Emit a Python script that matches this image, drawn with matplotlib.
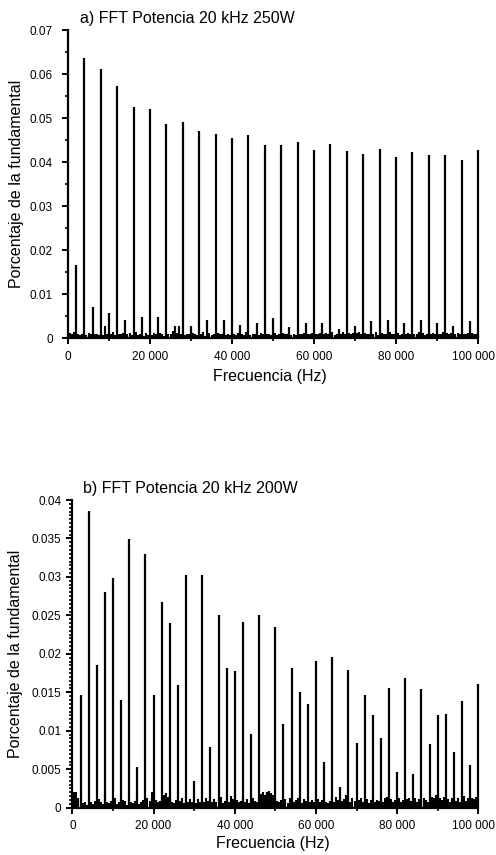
import numpy as np
import matplotlib
matplotlib.use("Agg")
import matplotlib.pyplot as plt
import matplotlib.transforms as mtransforms
from matplotlib.ticker import FixedLocator, MultipleLocator, FuncFormatter

plt.rcParams['font.family'] = ['Liberation Sans', 'DejaVu Sans']

# --- DATA ---
# harmonics every 2 kHz, amplitude as fraction of the fundamental
HARM_KHZ = list(range(2, 101, 2))

AMP_A = [0.0166, 0.0637, 0.0070, 0.0611, 0.0056, 0.0572, 0.0042, 0.0525, 0.0048, 0.0521,
         0.0047, 0.0486, 0.0028, 0.0490, 0.0028, 0.0470, 0.0041, 0.0463, 0.0042, 0.0454,
         0.0029, 0.0462, 0.0033, 0.0439, 0.0045, 0.0439, 0.0025, 0.0446, 0.0033, 0.0427,
         0.0033, 0.0441, 0.0020, 0.0424, 0.0028, 0.0419, 0.0038, 0.0429, 0.0042, 0.0411,
         0.0033, 0.0423, 0.0042, 0.0415, 0.0033, 0.0416, 0.0028, 0.0405, 0.0038, 0.0427]

AMP_B = [0.0147, 0.0386, 0.0185, 0.0280, 0.0298, 0.0140, 0.0349, 0.0053, 0.0330, 0.0146,
         0.0267, 0.0240, 0.0160, 0.0302, 0.0035, 0.0303, 0.0079, 0.0251, 0.0181, 0.0178,
         0.0242, 0.0096, 0.0251, 0.0020, 0.0235, 0.0109, 0.0181, 0.0150, 0.0135, 0.0191,
         0.0059, 0.0196, 0.0027, 0.0179, 0.0084, 0.0146, 0.0121, 0.0091, 0.0156, 0.0046,
         0.0169, 0.0044, 0.0154, 0.0083, 0.0120, 0.0122, 0.0072, 0.0139, 0.0055, 0.0161]

# background spectrum, one value every 500 Hz (units of 1e-4)
NOISE_A = [9, 11, 8, 14, 6, 10, 7, 9, 12, 6, 11, 8, 5, 9, 10, 7, 13, 6, 27, 8,
           6, 9, 14, 7, 5, 10, 8, 11, 6, 9, 12, 7, 8, 13, 6, 10, 9, 5, 11, 7,
           10, 6, 12, 8, 7, 11, 9, 5, 13, 8, 10, 15, 7, 12, 28, 9, 11, 6, 8, 10,
           7, 12, 9, 6, 10, 8, 13, 5, 9, 11, 7, 10, 6, 12, 8, 9, 11, 7, 10, 6,
           12, 8, 6, 11, 9, 10, 7, 13, 8, 6, 10, 9, 12, 7, 11, 8, 6, 10, 9, 7,
           8, 11, 7, 10, 6, 12, 9, 8, 11, 7, 10, 6, 13, 9, 8, 12, 7, 10, 9, 11,
           7, 10, 8, 12, 6, 9, 11, 8, 10, 13, 7, 9, 12, 8, 14, 10, 7, 11, 9, 12,
           8, 11, 13, 9, 7, 12, 10, 8, 11, 9, 13, 7, 10, 12, 8, 9, 11, 14, 8, 10,
           9, 12, 7, 10, 13, 8, 11, 9, 12, 10, 8, 13, 9, 11, 7, 10, 12, 8, 11, 9,
           12, 8, 10, 13, 7, 11, 9, 12, 8, 10, 11, 9, 13, 8, 10, 12, 9, 11, 8, 10]

NOISE_B = [25, 20, 21, 12, 14, 6, 8, 4, 10, 7, 5, 9, 6, 11, 8, 5, 18, 7, 6, 9,
           7, 12, 5, 8, 6, 10, 9, 4, 11, 7, 6, 9, 12, 5, 8, 10, 6, 13, 9, 20,
           18, 10, 7, 9, 12, 16, 19, 14, 11, 8, 6, 10, 7, 9, 12, 6, 10, 8, 11, 7,
           9, 6, 11, 8, 10, 7, 12, 9, 6, 8, 11, 7, 10, 14, 6, 9, 12, 8, 15, 11,
           16, 10, 7, 9, 12, 8, 11, 6, 10, 13, 9, 7, 14, 18, 20, 16, 21, 22, 19, 17,
           12, 9, 7, 10, 8, 11, 6, 12, 9, 7, 10, 13, 8, 6, 11, 9, 12, 7, 10, 8,
           9, 11, 7, 10, 12, 8, 6, 9, 11, 7, 14, 10, 13, 9, 11, 16, 10, 8, 12, 9,
           7, 10, 12, 8, 9, 11, 6, 10, 13, 8, 10, 9, 11, 7, 12, 14, 9, 11, 8, 10,
           9, 12, 8, 10, 7, 11, 13, 9, 10, 12, 8, 11, 9, 13, 10, 8, 11, 14, 12, 16,
           18, 12, 10, 14, 9, 11, 8, 12, 10, 9, 13, 8, 11, 15, 9, 12, 10, 13, 11, 14]

X_TICKS = [0, 20000, 40000, 60000, 80000, 100000]
Y_TICKS_A = [0, 0.01, 0.02, 0.03, 0.04, 0.05, 0.06, 0.07]
Y_TICKS_B = [0, 0.005, 0.01, 0.015, 0.02, 0.025, 0.03, 0.035, 0.04]

TITLE_A = "a) FFT Potencia 20 kHz 250W"
TITLE_B = "b) FFT Potencia 20 kHz 200W"
XLABEL = "Frecuencia (Hz)"
YLABEL = "Porcentaje de la fundamental"

W, H = 496, 855
fig = plt.figure(figsize=(W / 100, H / 100), dpi=100)


def px_box(x0, y0, x1, y1):
    # pixel box (top-left origin) -> figure fraction rect
    return [x0 / W, 1 - y1 / H, (x1 - x0) / W, (y1 - y0) / H]


def draw_spectrum(ax, amps, noise, yticks, yminor, ypad):
    f_noise = np.arange(len(noise)) * 500.0
    ax.vlines(f_noise, 0, np.array(noise) * 1e-4, color='black', lw=1.5, clip_on=False)
    f_harm = np.array(HARM_KHZ) * 1000.0
    ax.vlines(f_harm, 0, amps, color='black', lw=1.6, clip_on=False)

    ax.set_xlim(0, 100000)
    ax.set_ylim(0, yticks[-1])
    ax.xaxis.set_major_locator(FixedLocator(X_TICKS))
    ax.xaxis.set_minor_locator(MultipleLocator(10000))
    ax.xaxis.set_major_formatter(FuncFormatter(lambda v, p: f"{int(v):,}".replace(",", " ")))
    ax.yaxis.set_major_locator(FixedLocator(yticks))
    ax.yaxis.set_minor_locator(MultipleLocator(yminor))
    ax.yaxis.set_major_formatter(FuncFormatter(lambda v, p: f"{v:g}"))

    for s in ['top', 'right']:
        ax.spines[s].set_visible(False)
    for s in ['left', 'bottom']:
        ax.spines[s].set_linewidth(1.6)
    ax.tick_params(which='major', direction='out', length=4, width=1.4, labelsize=8.5)
    ax.tick_params(which='minor', direction='out', length=2, width=1.2)
    ax.tick_params(axis='x', which='major', pad=5)
    ax.tick_params(axis='y', which='major', pad=ypad)

    # keep the last x label inside the figure
    last = ax.xaxis.get_majorticklabels()[-1]
    last.set_transform(last.get_transform() +
                       mtransforms.ScaledTranslation(-5 / 100, 0, fig.dpi_scale_trans))


# === upper spectrum: 250 W ===
ax1 = fig.add_axes(px_box(68, 30, 478, 338))
draw_spectrum(ax1, AMP_A, NOISE_A, Y_TICKS_A, 0.005, 7)
fig.text(80 / W, 1 - 19 / H, TITLE_A, fontsize=11.5, va='center', ha='left')
fig.text(17 / W, 1 - 184 / H, YLABEL, fontsize=11.5, rotation=90, va='center', ha='center')
fig.text(270 / W, 1 - 377 / H, XLABEL, fontsize=11.5, va='center', ha='center')

# === lower spectrum: 200 W ===
ax2 = fig.add_axes(px_box(72.4, 500, 478.3, 807.7))
draw_spectrum(ax2, AMP_B, NOISE_B, Y_TICKS_B, 0.0005, 4)
fig.text(83 / W, 1 - 488 / H, TITLE_B, fontsize=11.5, va='center', ha='left')
fig.text(16 / W, 1 - 654 / H, YLABEL, fontsize=11.5, rotation=90, va='center', ha='center')
fig.text(273 / W, 1 - 843 / H, XLABEL, fontsize=11.5, va='center', ha='center')

fig.savefig("out.png", dpi=100)
